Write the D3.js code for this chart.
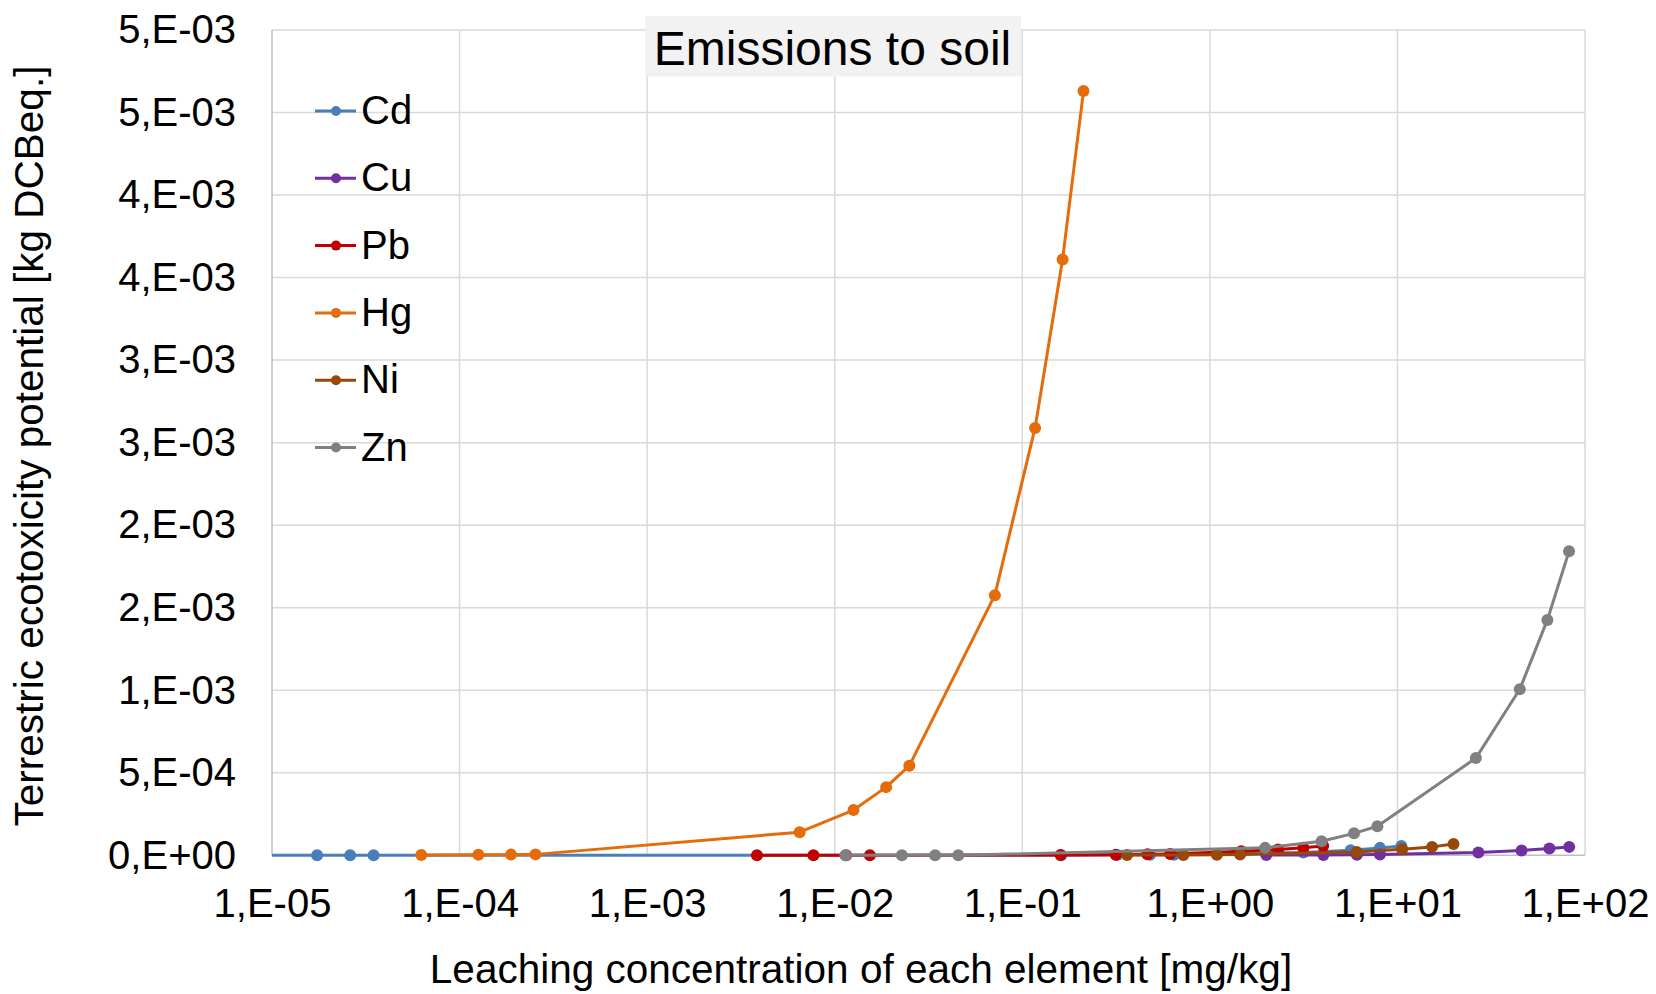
<!DOCTYPE html>
<html>
<head>
<meta charset="utf-8">
<script src="https://cdn.jsdelivr.net/npm/d3@7"></script>
<style>
  body { margin: 0; background: #fff; }
  text { font-family: "Liberation Sans", Arial, sans-serif; fill: #000; }
</style>
</head>
<body>
<svg id="chart" width="1656" height="994"></svg>
<script>
// values (x in mg/kg, y in kg DCBeq.)
const cdX = [0.0000087, 0.0000174, 0.0000261, 0.0000348, 0.161, 0.320, 0.480, 0.644, 3.15, 5.63, 8.07, 10.5];
const cdY = [0, 0, 0, 0, 0.0000009, 0.0000017, 0.0000026, 0.0000035, 0.000017, 0.000031, 0.000045, 0.000056];

const cuX = [2.0, 4.03, 6.08, 8.07, 27.0, 45.9, 64.6, 82.4];
const cuY = [0.0000013, 0.0000025, 0.0000038, 0.000005, 0.000017, 0.000029, 0.000041, 0.000051];

const pbX = [0.00385, 0.0077, 0.0115, 0.0154, 0.160, 0.315, 0.465, 0.615, 1.47, 2.31, 3.15, 4.02];
const pbY = [0, 0, 0, 0, 0.000002, 0.000004, 0.0000065, 0.0000085, 0.000024, 0.000035, 0.000046, 0.000056];

const hgX = [0.0000625, 0.000126, 0.000188, 0.000254, 0.0065, 0.0126, 0.0188, 0.0250, 0.0714, 0.117, 0.164, 0.212];
const hgY = [0.0000014, 0.0000028, 0.0000041, 0.0000056, 0.00014, 0.000274, 0.000413, 0.000543, 0.001576, 0.002589, 0.00361, 0.00463];

const niX = [0.362, 0.723, 1.09, 1.45, 6.07, 10.6, 15.3, 19.9];
const niY = [0.0000012, 0.0000025, 0.0000037, 0.0000049, 0.00002, 0.000036, 0.000051, 0.000068];

const znX = [0.0114, 0.0228, 0.0343, 0.0456, 1.97, 3.94, 5.87, 7.82, 26.2, 44.9, 63.0, 82.2];
const znY = [0, 0, 0, 0, 0.000045, 0.000085, 0.000133, 0.000176, 0.000589, 0.001006, 0.001426, 0.001842];

const seriesNames = ['Cd', 'Cu', 'Pb', 'Hg', 'Ni', 'Zn'];
const seriesX = [cdX, cuX, pbX, hgX, niX, znX];
const seriesY = [cdY, cuY, pbY, hgY, niY, znY];
const seriesColors = ['#4a7ebb', '#7030a0', '#c00000', '#e46c0a', '#984807', '#808080'];

const xTicks = [1e-5, 1e-4, 1e-3, 1e-2, 1e-1, 1e0, 1e1, 1e2];
const xTickLabels = ['1,E-05', '1,E-04', '1,E-03', '1,E-02', '1,E-01', '1,E+00', '1,E+01', '1,E+02'];
const yTicks = [0, 0.0005, 0.001, 0.0015, 0.002, 0.0025, 0.003, 0.0035, 0.004, 0.0045, 0.005];
const yTickLabels = ['0,E+00', '5,E-04', '1,E-03', '2,E-03', '2,E-03', '3,E-03', '3,E-03', '4,E-03', '4,E-03', '5,E-03', '5,E-03'];

const PLOT = { left: 272, right: 1585, top: 30, bottom: 855.3 };

const x = d3.scaleLog().domain([1e-5, 1e2]).range([PLOT.left, PLOT.right]);
const y = d3.scaleLinear().domain([0, 0.005]).range([PLOT.bottom, PLOT.top]);

const svg = d3.select('#chart');

svg.append('clipPath').attr('id', 'plotclip')
  .append('rect')
  .attr('x', PLOT.left).attr('y', PLOT.top - 10)
  .attr('width', PLOT.right - PLOT.left + 10)
  .attr('height', PLOT.bottom - PLOT.top + 20);

// gridlines
const grid = svg.append('g');
grid.selectAll('.hgrid').data(yTicks.slice(1)).enter()
  .append('line')
  .attr('x1', PLOT.left).attr('x2', PLOT.right)
  .attr('y1', d => y(d)).attr('y2', d => y(d))
  .attr('stroke', '#d9d9d9').attr('stroke-width', 1.5);
grid.selectAll('.vgrid').data(xTicks.slice(1)).enter()
  .append('line')
  .attr('x1', d => x(d)).attr('x2', d => x(d))
  .attr('y1', PLOT.top).attr('y2', PLOT.bottom)
  .attr('stroke', '#d9d9d9').attr('stroke-width', 1.5);

// axes
svg.append('g')
  .attr('transform', `translate(0,${PLOT.bottom})`)
  .call(d3.axisBottom(x).tickValues(xTicks).tickFormat((d, i) => xTickLabels[i]).tickSize(0).tickPadding(33))
  .call(g => g.select('.domain').remove())
  .selectAll('text').attr('font-size', 40).attr('font-family', '"Liberation Sans", Arial, sans-serif');

svg.append('g')
  .attr('transform', `translate(${PLOT.left},0)`)
  .call(d3.axisLeft(y).tickValues(yTicks).tickFormat((d, i) => yTickLabels[i]).tickSize(0).tickPadding(36))
  .call(g => g.select('.domain').remove())
  .selectAll('text').attr('font-size', 40).attr('font-family', '"Liberation Sans", Arial, sans-serif');

svg.append('line')
  .attr('x1', PLOT.left).attr('x2', PLOT.left).attr('y1', PLOT.top).attr('y2', PLOT.bottom)
  .attr('stroke', '#bfbfbf').attr('stroke-width', 1.5);
svg.append('line')
  .attr('x1', PLOT.left).attr('x2', PLOT.right).attr('y1', PLOT.bottom).attr('y2', PLOT.bottom)
  .attr('stroke', '#bfbfbf').attr('stroke-width', 1.5);

// series
const line = d3.line().x(d => x(d[0])).y(d => y(d[1]));
const plot = svg.append('g').attr('clip-path', 'url(#plotclip)');

seriesNames.forEach((name, s) => {
  const pts = seriesX[s].map((v, i) => [v, seriesY[s][i]]);
  const g = plot.append('g');
  g.append('path')
    .datum(pts)
    .attr('d', line)
    .attr('fill', 'none')
    .attr('stroke', seriesColors[s])
    .attr('stroke-width', 3)
    .attr('stroke-linejoin', 'round');
  g.selectAll('circle')
    .data(pts.filter(p => p[0] >= 1e-5))
    .enter()
    .append('circle')
    .attr('cx', d => x(d[0]))
    .attr('cy', d => y(d[1]))
    .attr('r', 6)
    .attr('fill', seriesColors[s]);
});

// legend
const legend = svg.append('g');
seriesNames.forEach((name, i) => {
  const ly = 111 + i * 67.3;
  legend.append('line')
    .attr('x1', 315).attr('x2', 356).attr('y1', ly).attr('y2', ly)
    .attr('stroke', seriesColors[i]).attr('stroke-width', 3);
  legend.append('circle')
    .attr('cx', 336).attr('cy', ly).attr('r', 5)
    .attr('fill', seriesColors[i]);
  legend.append('text')
    .attr('x', 361).attr('y', ly + 13)
    .attr('font-size', 40)
    .text(name);
});

// title
svg.append('rect')
  .attr('x', 645).attr('y', 16).attr('width', 376).attr('height', 60.5)
  .attr('fill', '#f2f2f2');
svg.append('text')
  .attr('x', 832.5).attr('y', 65)
  .attr('text-anchor', 'middle')
  .attr('font-size', 48)
  .text('Emissions to soil');

// axis titles
svg.append('text')
  .attr('x', 861).attr('y', 983)
  .attr('text-anchor', 'middle')
  .attr('font-size', 40.5)
  .text('Leaching concentration of each element [mg/kg]');

svg.append('text')
  .attr('transform', 'translate(43,446) rotate(-90)')
  .attr('text-anchor', 'middle')
  .attr('font-size', 40.5)
  .text('Terrestric ecotoxicity potential [kg DCBeq.]');
</script>
</body>
</html>
